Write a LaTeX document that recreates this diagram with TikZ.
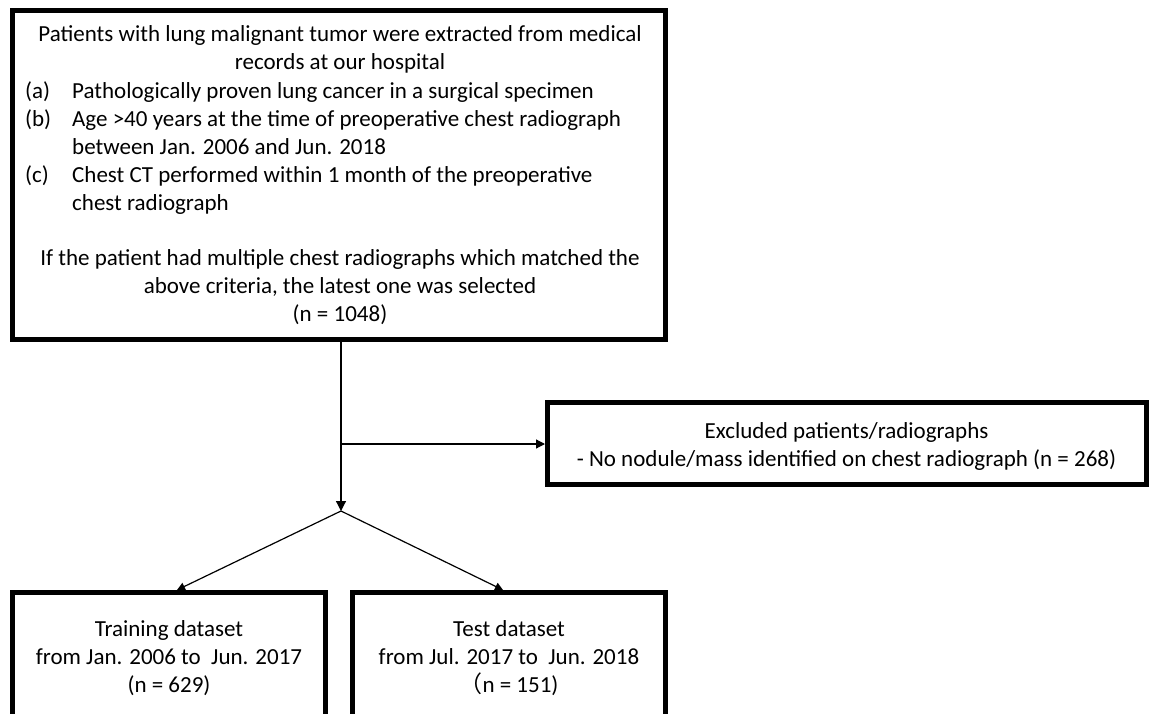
\documentclass[tikz,border=0pt]{standalone}
\usepackage{fontspec}
\setmainfont{Carlito}
\newfontfamily\cjk{Noto Sans CJK JP}
\usetikzlibrary{arrows.meta,calc}
\begin{document}
\begin{tikzpicture}[x=1pt,y=-1pt,
  box/.style={draw, line width=5pt, rectangle, inner sep=0pt},
  txt/.style={inner sep=0pt, align=center, font=\fontsize{23}{28}\selectfont},
  ltxt/.style={inner sep=0pt, align=left, font=\fontsize{23}{28}\selectfont},
  conn/.style={line width=1.2pt},
  bigtip/.style={-{Triangle[length=10pt,width=10pt]}},
  midtip/.style={-{Triangle[length=9pt,width=9pt]}},
  smalltip/.style={-{Triangle[length=8pt,width=8pt]}}
]
\useasboundingbox (0,0) rectangle (1151,714);
\fill[white] (0,0) rectangle (1151,714);
\clip (0,0) rectangle (1151,714);

% boxes
\node[box, minimum width=653pt, minimum height=329pt] (top) at (339,175) {};
\node[box, minimum width=599pt, minimum height=82pt] (excl) at (847,443.5) {};
\node[box, minimum width=313pt, minimum height=160pt] (lbox) at (169,672.5) {};
\node[box, minimum width=313pt, minimum height=160pt] (rbox) at (509,672.5) {};

% texts in top box
\node[txt] (head) at (340,49) {Patients with lung malignant tumor were extracted from medical\\records at our hospital};
\node[ltxt, anchor=west] (list) at (25,148) {\makebox[47pt][l]{(a)}Pathologically proven lung cancer in a surgical specimen\\
\makebox[47pt][l]{(b)}Age >40 years at the time of preoperative chest radiograph\\
\hspace*{47pt}between Jan. 2006 and Jun. 2018\\
\makebox[47pt][l]{(c)}Chest CT performed within 1 month of the preoperative\\
\hspace*{47pt}chest radiograph};
\node[txt] (foot) at (340,287) {If the patient had multiple chest radiographs which matched the\\above criteria, the latest one was selected\\(n = 1048)};

% other texts
\node[txt] (excltxt) at (846.5,446) {Excluded patients/radiographs\\- No nodule/mass identified on chest radiograph (n = 268)};
\node[txt] (ltext) at (169,658) {Training dataset\\from Jan. 2006 to\ \ Jun. 2017\\(n = 629)};
\node[txt] (rtext) at (509,658) {Test dataset\\from Jul. 2017 to\ \ Jun. 2018\\{\cjk （}n = 151)};

% connectors
\coordinate (split) at (341,511);
\coordinate (branch) at (341,444);
\draw[conn, bigtip] (split |- top.south) -- (split);
\draw[conn, midtip] (branch) -- (excl.west |- branch);
\draw[conn, smalltip] (split) -- ([xshift=8pt]lbox.north);
\draw[conn, smalltip] (split) -- ([xshift=-6pt]rbox.north);
\end{tikzpicture}
\end{document}
